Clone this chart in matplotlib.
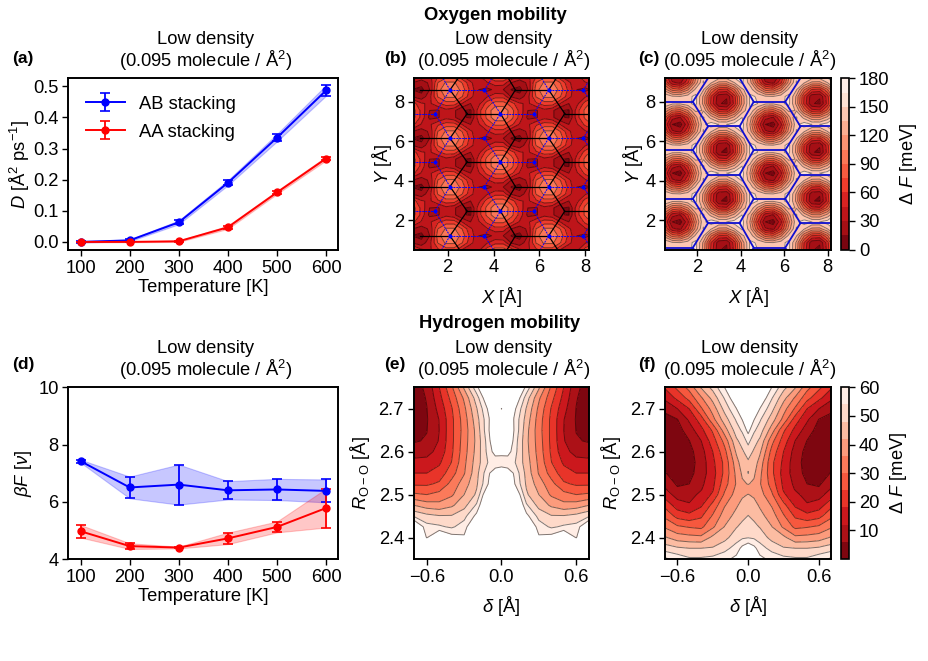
import numpy as np
import matplotlib
matplotlib.use("Agg")
import matplotlib.pyplot as plt

plt.rcParams["font.family"] = ["Liberation Sans", "DejaVu Sans"]
plt.rcParams["font.size"] = 13.2
plt.rcParams["mathtext.fontset"] = "custom"
plt.rcParams["mathtext.rm"] = "Liberation Sans"
plt.rcParams["mathtext.it"] = "Liberation Sans:italic"
plt.rcParams["mathtext.bf"] = "Liberation Sans:bold"
plt.rcParams["axes.linewidth"] = 1.4

W, H = 929, 661

temperature = [100, 200, 300, 400, 500, 600]

D_ab = [0.000, 0.005, 0.063, 0.190, 0.335, 0.487]
D_ab_err = [0.002, 0.003, 0.006, 0.008, 0.012, 0.017]
D_aa = [0.000, 0.000, 0.002, 0.047, 0.159, 0.268]
D_aa_err = [0.001, 0.001, 0.002, 0.005, 0.005, 0.006]

bF_ab = [7.42, 6.50, 6.60, 6.40, 6.43, 6.38]
bF_ab_err = [0.05, 0.38, 0.70, 0.32, 0.37, 0.40]
bF_aa = [4.97, 4.45, 4.40, 4.72, 5.12, 5.78]
bF_aa_err = [0.22, 0.10, 0.03, 0.20, 0.19, 0.68]

# free energy on one rectangular cell of the oxygen lattice (meV), repeated over the sheet
cell_dx = 0.3567
cell_dy = 0.3529
oxygen_ab_cell = [
    [67, 47, 42, 57, 68, 68, 44, 30, 40, 67, 82, 82],
    [28, 20, 40, 76, 93, 93, 75, 50, 33, 43, 55, 55],
    [14, 10, 30, 83, 103, 103, 83, 55, 30, 26, 33, 30],
    [30, 22, 33, 75, 92, 92, 74, 48, 33, 43, 54, 54],
    [64, 43, 42, 57, 67, 67, 44, 30, 43, 64, 78, 78],
    [80, 55, 26, 28, 40, 33, 16, 14, 54, 78, 101, 101],
    [82, 55, 30, 28, 40, 33, 16, 13, 54, 79, 101, 101],
]
oxygen_aa_cell = [
    [150, 139, 138, 146, 155, 115, 56, 16, 13, 50, 108, 152],
    [149, 138, 136, 144, 155, 117, 59, 19, 16, 53, 110, 152],
    [114, 84, 78, 102, 139, 137, 92, 59, 56, 88, 132, 146],
    [76, 33, 26, 57, 111, 151, 137, 116, 115, 135, 153, 128],
    [60, 15, 8, 40, 100, 147, 158, 150, 150, 157, 157, 120],
    [78, 36, 29, 60, 113, 152, 130, 107, 106, 125, 150, 130],
    [117, 88, 83, 105, 139, 134, 87, 51, 48, 81, 126, 148],
]

# proton-transfer surfaces, listed for delta >= 0 and mirrored about delta = 0
delta_e = [0.0, 0.05, 0.1, 0.2, 0.3, 0.4, 0.5, 0.6, 0.7]
roo_e = [2.75, 2.725, 2.7, 2.675, 2.65, 2.625, 2.6, 2.575, 2.55, 2.525, 2.5,
         2.475, 2.45, 2.425, 2.4, 2.375, 2.35]
hydrogen_ab = [
    [75, 75, 75, 58, 43, 29, 18, 7.5, 3],
    [75, 75, 68, 51, 37, 26, 16, 6.5, 2],
    [59.5, 75, 62, 47.5, 34.5, 23.5, 14, 5.8, 1.5],
    [75, 75, 59.5, 45.5, 33, 22.5, 12.2, 5.5, 1.5],
    [75, 72, 60, 44, 32.5, 22.5, 12, 5.8, 3],
    [75, 70, 58, 43.5, 33, 22.5, 12.5, 6.5, 5.5],
    [63, 63, 57, 44, 33.5, 23, 14, 10, 9],
    [55, 55.5, 55, 45, 34.5, 24.2, 17, 14, 14],
    [67, 64, 59.5, 46, 35.5, 27.5, 20.5, 18, 18],
    [75, 72, 61, 47, 39, 32, 25, 23, 23],
    [75, 75, 70, 49, 42, 35, 32, 30, 31],
    [75, 75, 75, 55, 46, 41, 38, 39, 42],
    [75, 75, 75, 62, 52, 48.5, 48.5, 50, 53],
    [75, 75, 75, 70, 57, 53, 55, 56, 70],
    [75, 75, 75, 75, 61, 63, 70, 59.5, 75],
    [75, 75, 75, 75, 75, 75, 75, 75, 75],
    [75, 75, 75, 75, 75, 75, 75, 75, 75],
]

delta_f = [0.0, 0.05, 0.1, 0.2, 0.3, 0.4, 0.5, 0.6, 0.7]
roo_f = [2.75, 2.725, 2.7, 2.675, 2.65, 2.625, 2.6, 2.575, 2.55, 2.525, 2.5125, 2.5,
         2.475, 2.45, 2.425, 2.4, 2.375, 2.35]
hydrogen_aa = [
    [74, 72, 70, 60, 50, 42.5, 32, 25.5, 19],
    [74, 70, 66, 54.5, 44, 35, 26, 19.5, 13.5],
    [72, 67, 59.8, 50, 38.5, 29, 18, 12, 7.5],
    [68, 60.2, 54.8, 45, 34, 21, 13, 5.8, 4],
    [62, 55, 51, 39, 25, 16, 9, 3.5, 2.5],
    [55.8, 50.5, 46.7, 32, 21, 11.8, 5.8, 3, 2],
    [51, 47, 43, 28, 18, 9.5, 4, 2.5, 2.5],
    [47, 45.3, 39.5, 25.5, 16.5, 8.5, 3.5, 2.5, 4],
    [48.2, 43, 37.5, 25.5, 15.5, 9, 4, 3, 6.2],
    [42.3, 41, 36.5, 27.5, 16.5, 10.5, 6, 5, 10.5],
    [39.5, 39.5, 37.5, 29.2, 17.3, 11.5, 8, 7, 12.3],
    [42.2, 41, 38.5, 31, 19, 13.5, 9.5, 9.5, 15],
    [45.3, 44, 41.2, 35.5, 26, 17, 12.8, 15, 22],
    [48.2, 46.5, 44, 39, 30.8, 23, 20, 22, 28.5],
    [51, 49.6, 47.6, 42.2, 35, 28.5, 29.5, 31, 35],
    [53.7, 53, 51.5, 46, 43.5, 37.5, 38, 39, 42.5],
    [66, 62, 56.5, 52, 48.5, 48, 48, 49, 51],
    [70, 69, 62, 58, 56, 55, 55, 58, 61],
]

oxygen_levels = np.arange(0, 181, 15)
oxygen_ticks = [0, 30, 60, 90, 120, 150, 180]
hydrogen_levels = np.arange(0, 61, 6)
hydrogen_ticks = [10, 20, 30, 40, 50, 60]

# honeycomb vertices: y of the two alternating rows, horizontal bonds per row, zigzag links
rows_even_b = [1.2, 3.7, 6.15, 8.6]
rows_odd_b = [-0.05, 2.45, 4.95, 7.4, 9.85]
black_even = [(0.8, 2.1), (4.95, 6.4)]
black_odd = [(2.85, 4.3), (7.1, 8.5)]
black_links = [(2.1, 2.85), (4.95, 4.3), (6.4, 7.1)]
blue_even = [(2.1, 3.6), (6.4, 7.9)]
blue_odd = [(0.5, 1.45), (4.3, 5.75)]
blue_links = [(2.1, 1.45), (3.6, 4.3), (6.4, 5.75), (7.9, 8.6)]

rows_even_c = [0.6, 3.08, 5.55, 8.0, 10.45]
rows_odd_c = [-0.65, 1.85, 4.3, 6.75, 9.2]
hex_even = [(0.3, 1.8), (4.6, 6.05)]
hex_odd = [(2.5, 3.95), (6.75, 8.3)]
hex_links = [(1.8, 2.5), (4.6, 3.95), (6.05, 6.75), (0.3, -0.4), (8.9, 8.25)]

title_text = "Low density\n(0.095 molecule / Å$^2$)"
BLUE = "#0000ff"
RED = "#ff0000"


def px_axes(fig, left, right, top, bottom):
    return fig.add_axes([left / W, 1 - bottom / H, (right - left) / W, (bottom - top) / H])


def plot_line(ax, y, err, color, label=None):
    y = np.array(y)
    err = np.array(err)
    ax.fill_between(temperature, y - err, y + err, color=color, alpha=0.22, lw=0.8)
    ax.errorbar(temperature, y, yerr=err, color=color, marker="o", ms=5, lw=1.4,
                capsize=3.5, capthick=1.2, elinewidth=1.3, label=label)


def draw_lattice(ax, rows_even, rows_odd, even, odd, links, **style):
    for y in rows_even:
        for x1, x2 in even:
            ax.plot([x1, x2], [y, y], **style)
    for y in rows_odd:
        for x1, x2 in odd:
            ax.plot([x1, x2], [y, y], **style)
    for y in rows_even:
        for x_even, x_odd in links:
            for y_odd in rows_odd:
                if abs(y_odd - y) < 1.4:
                    ax.plot([x_even, x_odd], [y, y_odd], **style)


def tile_cell(cell):
    grid = np.tile(np.array(cell, dtype=float), (4, 2))
    x = 0.5 + cell_dx * np.arange(grid.shape[1])
    y = 0.5 + cell_dy * np.arange(grid.shape[0])
    return x, y, grid


def mirrored(delta, roo, half):
    half = np.array(half, dtype=float)
    delta = np.array(delta)
    x = np.concatenate((-delta[:0:-1], delta))
    z = np.hstack((half[:, :0:-1], half))
    return x, np.array(roo)[::-1], z[::-1]


def filled(ax, x, y, z, levels, line_alpha):
    cs = ax.contourf(x, y, z, levels=levels, cmap="Reds_r")
    ax.contour(x, y, z, levels=levels, colors="k", linewidths=0.7, alpha=line_alpha)
    return cs


fig = plt.figure(figsize=(W / 100, H / 100), dpi=100)

ax_a = px_axes(fig, 68.3, 338.3, 78.3, 250)
ax_b = px_axes(fig, 413.7, 589.3, 78.3, 249.5)
ax_c = px_axes(fig, 665, 831.3, 78.3, 249.5)
ax_d = px_axes(fig, 68.3, 338.3, 387.3, 559)
ax_e = px_axes(fig, 413.7, 589.3, 387.3, 559)
ax_f = px_axes(fig, 665, 831.3, 387.3, 559)
cax_top = px_axes(fig, 841, 849.3, 78.3, 249.5)
cax_bot = px_axes(fig, 841, 849.3, 387.3, 559)

# diffusion
plot_line(ax_a, D_ab, D_ab_err, BLUE, "AB stacking")
plot_line(ax_a, D_aa, D_aa_err, RED, "AA stacking")
ax_a.set_ylim(-0.026, 0.526)
ax_a.set_yticks([0.0, 0.1, 0.2, 0.3, 0.4, 0.5])
ax_a.set_ylabel("$D$ [Å$^2$ ps$^{-1}$]", labelpad=1)
ax_a.legend(loc="upper left", frameon=False, fontsize=13.2, bbox_to_anchor=(0.005, 0.995),
            handlelength=2.1, labelspacing=0.6)

# free energy barrier
plot_line(ax_d, bF_ab, bF_ab_err, BLUE)
plot_line(ax_d, bF_aa, bF_aa_err, RED)
ax_d.set_ylim(4, 10)
ax_d.set_yticks([4, 6, 8, 10])
ax_d.set_ylabel(r"$\beta F$ [$\nu$]", labelpad=3)

for ax in (ax_a, ax_d):
    ax.set_xlim(75, 625)
    ax.set_xticks(temperature)
    ax.set_xlabel("Temperature [K]", labelpad=1.5)

# oxygen surfaces
x, y, z = tile_cell(oxygen_ab_cell)
cs_top = filled(ax_b, x, y, z, oxygen_levels, 0.5)
draw_lattice(ax_b, rows_even_b, rows_odd_b, black_even, black_odd, black_links, color="k", lw=0.9)
draw_lattice(ax_b, rows_even_b, rows_odd_b, blue_even, blue_odd, blue_links, color=BLUE, lw=0.7,
             ls=(0, (2, 1)), marker="o", ms=1.6)
x, y, z = tile_cell(oxygen_aa_cell)
filled(ax_c, x, y, z, oxygen_levels, 0.45)
draw_lattice(ax_c, rows_even_c, rows_odd_c, hex_even, hex_odd, hex_links, color="#1010d0", lw=1.3)

for ax in (ax_b, ax_c):
    ax.set_xlim(0.52, 8.17)
    ax.set_ylim(0.51, 9.19)
    ax.set_xticks([2, 4, 6, 8])
    ax.set_yticks([2, 4, 6, 8])
    ax.set_xlabel("$X$ [Å]", labelpad=6)
    ax.set_ylabel("$Y$ [Å]", labelpad=0)

# hydrogen surfaces
x, y, z = mirrored(delta_e, roo_e, hydrogen_ab)
filled(ax_e, x, y, z, hydrogen_levels, 0.5)
x, y, z = mirrored(delta_f, roo_f, hydrogen_aa)
cs_bot = filled(ax_f, x, y, z, hydrogen_levels, 0.5)

for ax in (ax_e, ax_f):
    ax.set_xlim(-0.705, 0.705)
    ax.set_ylim(2.35, 2.75)
    ax.set_xticks([-0.6, 0.0, 0.6])
    ax.set_yticks([2.4, 2.5, 2.6, 2.7])
    ax.set_xlabel(r"$\delta$ [Å]", labelpad=6)
    ax.set_ylabel(r"$R_{\mathrm{O-O}}$ [Å]", labelpad=5)

for ax in (ax_a, ax_b, ax_c, ax_d, ax_e, ax_f):
    ax.set_title(title_text, fontsize=13.2, pad=8, linespacing=1.08, x=0.51)
    ax.tick_params(length=4, width=1.0, labelsize=13.2, pad=3)

cb = fig.colorbar(cs_top, cax=cax_top, ticks=oxygen_ticks)
cb.set_label(r"$\Delta\ F$ [meV]", labelpad=6)
cb2 = fig.colorbar(cs_bot, cax=cax_bot, ticks=hydrogen_ticks)
cb2.set_label(r"$\Delta\ F$ [meV]", labelpad=6)
for c in (cb, cb2):
    c.ax.tick_params(length=4, width=1.0, labelsize=13.2, pad=3)
    c.outline.set_linewidth(1.2)

for label, px, py in [("(a)", 12, 59), ("(b)", 384, 59), ("(c)", 638, 59),
                      ("(d)", 12, 364), ("(e)", 384, 364), ("(f)", 638, 364)]:
    fig.text(px / W, 1 - py / H, label, fontsize=12.5, fontweight="bold", va="center", ha="left")
fig.text(495 / W, 1 - 15.5 / H, "Oxygen mobility", fontsize=13.2, fontweight="bold", ha="center", va="center")
fig.text(500 / W, 1 - 324 / H, "Hydrogen mobility", fontsize=13.2, fontweight="bold", ha="center", va="center")

fig.savefig("out.png", dpi=100)
